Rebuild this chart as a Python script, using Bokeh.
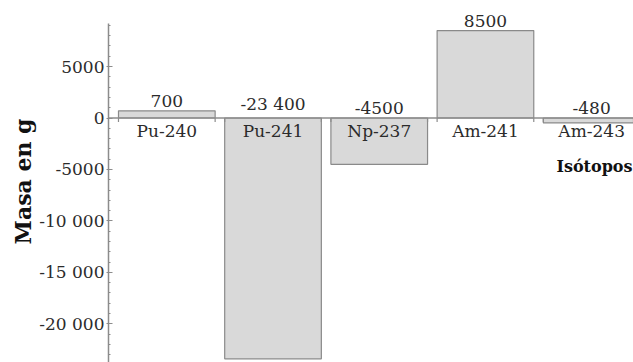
from bokeh.plotting import figure
from bokeh.models import Span, Label, FixedTicker, CustomJSTickFormatter, ColumnDataSource
from bokeh.core.properties import value
from bokeh.embed import file_html
from bokeh.resources import INLINE

# ---- data ----
isotopes = ["Pu-240", "Pu-241", "Np-237", "Am-241", "Am-243"]
masses = [700, -23400, -4500, 8500, -480]
y_ticks = [-20000, -15000, -10000, -5000, 0, 5000]

def fmt(v):
    a = abs(int(v))
    s = str(a)
    if a >= 10000:
        s = f"{a:,}".replace(",", " ")
    return ("-" if v < 0 else "") + s

FONT = "DejaVu Serif"
TXT = "#2b2b2b"
AX = "#8c8c8c"

W, H = 633, 362
LEFT = 108
x_start, x_end = -0.549, 4.394
y_start, y_end = -23761, 11419
px_per_unit_y = H / (y_end - y_start)

p = figure(width=W, height=H, output_backend="svg", toolbar_location=None,
           x_range=(x_start, x_end), y_range=(y_start, y_end),
           x_axis_location=None, min_border_left=LEFT, min_border_right=0,
           min_border_top=0, min_border_bottom=0, outline_line_color=None)
p.grid.visible = False
p.background_fill_color = "white"
p.border_fill_color = "white"

idx = list(range(len(isotopes)))
bar_w = 0.91
src = ColumnDataSource(dict(
    x=idx, top=masses,
    lab=[fmt(v) for v in masses],
    ly=[max(v, 0) for v in masses],
    cat=isotopes,
))

p.vbar(x="x", top="top", bottom=0, width=bar_w, source=src,
       fill_color="#d9d9d9", line_color="#8a8a8a", line_width=1.2)

# zero line (x axis)
p.add_layout(Span(location=0, dimension="width", line_color=AX, line_width=1.5))

# x tick marks at bar edges
edges = []
for i in idx:
    edges += [i - bar_w / 2, i + bar_w / 2]
tick_len = 4 / px_per_unit_y
p.segment(x0=edges, y0=[0] * len(edges), x1=edges, y1=[-tick_len] * len(edges),
          line_color=AX, line_width=1.2)

# value labels
p.text(x="x", y="ly", text="lab", source=src, text_align="center",
       text_baseline="bottom", y_offset=-4, text_font=value(FONT),
       text_font_size="17px", text_color=TXT)
# category labels
p.text(x="x", y=0, text="cat", source=src, text_align="center",
       text_baseline="top", y_offset=3, text_font=value(FONT),
       text_font_size="17px", text_color=TXT)

# x axis title (kept fully inside the window)
p.add_layout(Label(x=4.385, y=-4750, text="Isótopos", text_font=FONT,
                   text_align="right",
                   text_font_style="bold", text_font_size="16px",
                   text_color="#111111", text_baseline="alphabetic"))

# y axis
ax = p.yaxis[0]
ax.ticker = FixedTicker(ticks=y_ticks, minor_ticks=list(range(-23000, 9001, 1000)))
ax.formatter = CustomJSTickFormatter(code="""
const a = Math.abs(tick);
let s = a.toFixed(0);
if (a >= 10000) { s = s.replace(/\\B(?=(\\d{3})+(?!\\d))/g, ' '); }
return (tick < 0 ? '-' : '') + s;
""")
ax.bounds = (y_start, 9200)
ax.axis_line_color = AX
ax.axis_line_width = 1.5
ax.major_tick_line_color = AX
ax.minor_tick_line_color = AX
ax.major_tick_in = 4
ax.major_tick_out = 2
ax.minor_tick_in = 2
ax.minor_tick_out = 0
ax.major_label_standoff = 2
ax.major_label_text_font = FONT
ax.major_label_text_font_size = "17px"
ax.major_label_text_color = TXT
ax.axis_label = "Masa en g"
ax.axis_label_text_font = FONT
ax.axis_label_text_font_style = "bold"
ax.axis_label_text_font_size = "22px"
ax.axis_label_text_color = "#111111"
ax.axis_label_standoff = 0

open("out.html", "w").write(file_html(p, INLINE))
